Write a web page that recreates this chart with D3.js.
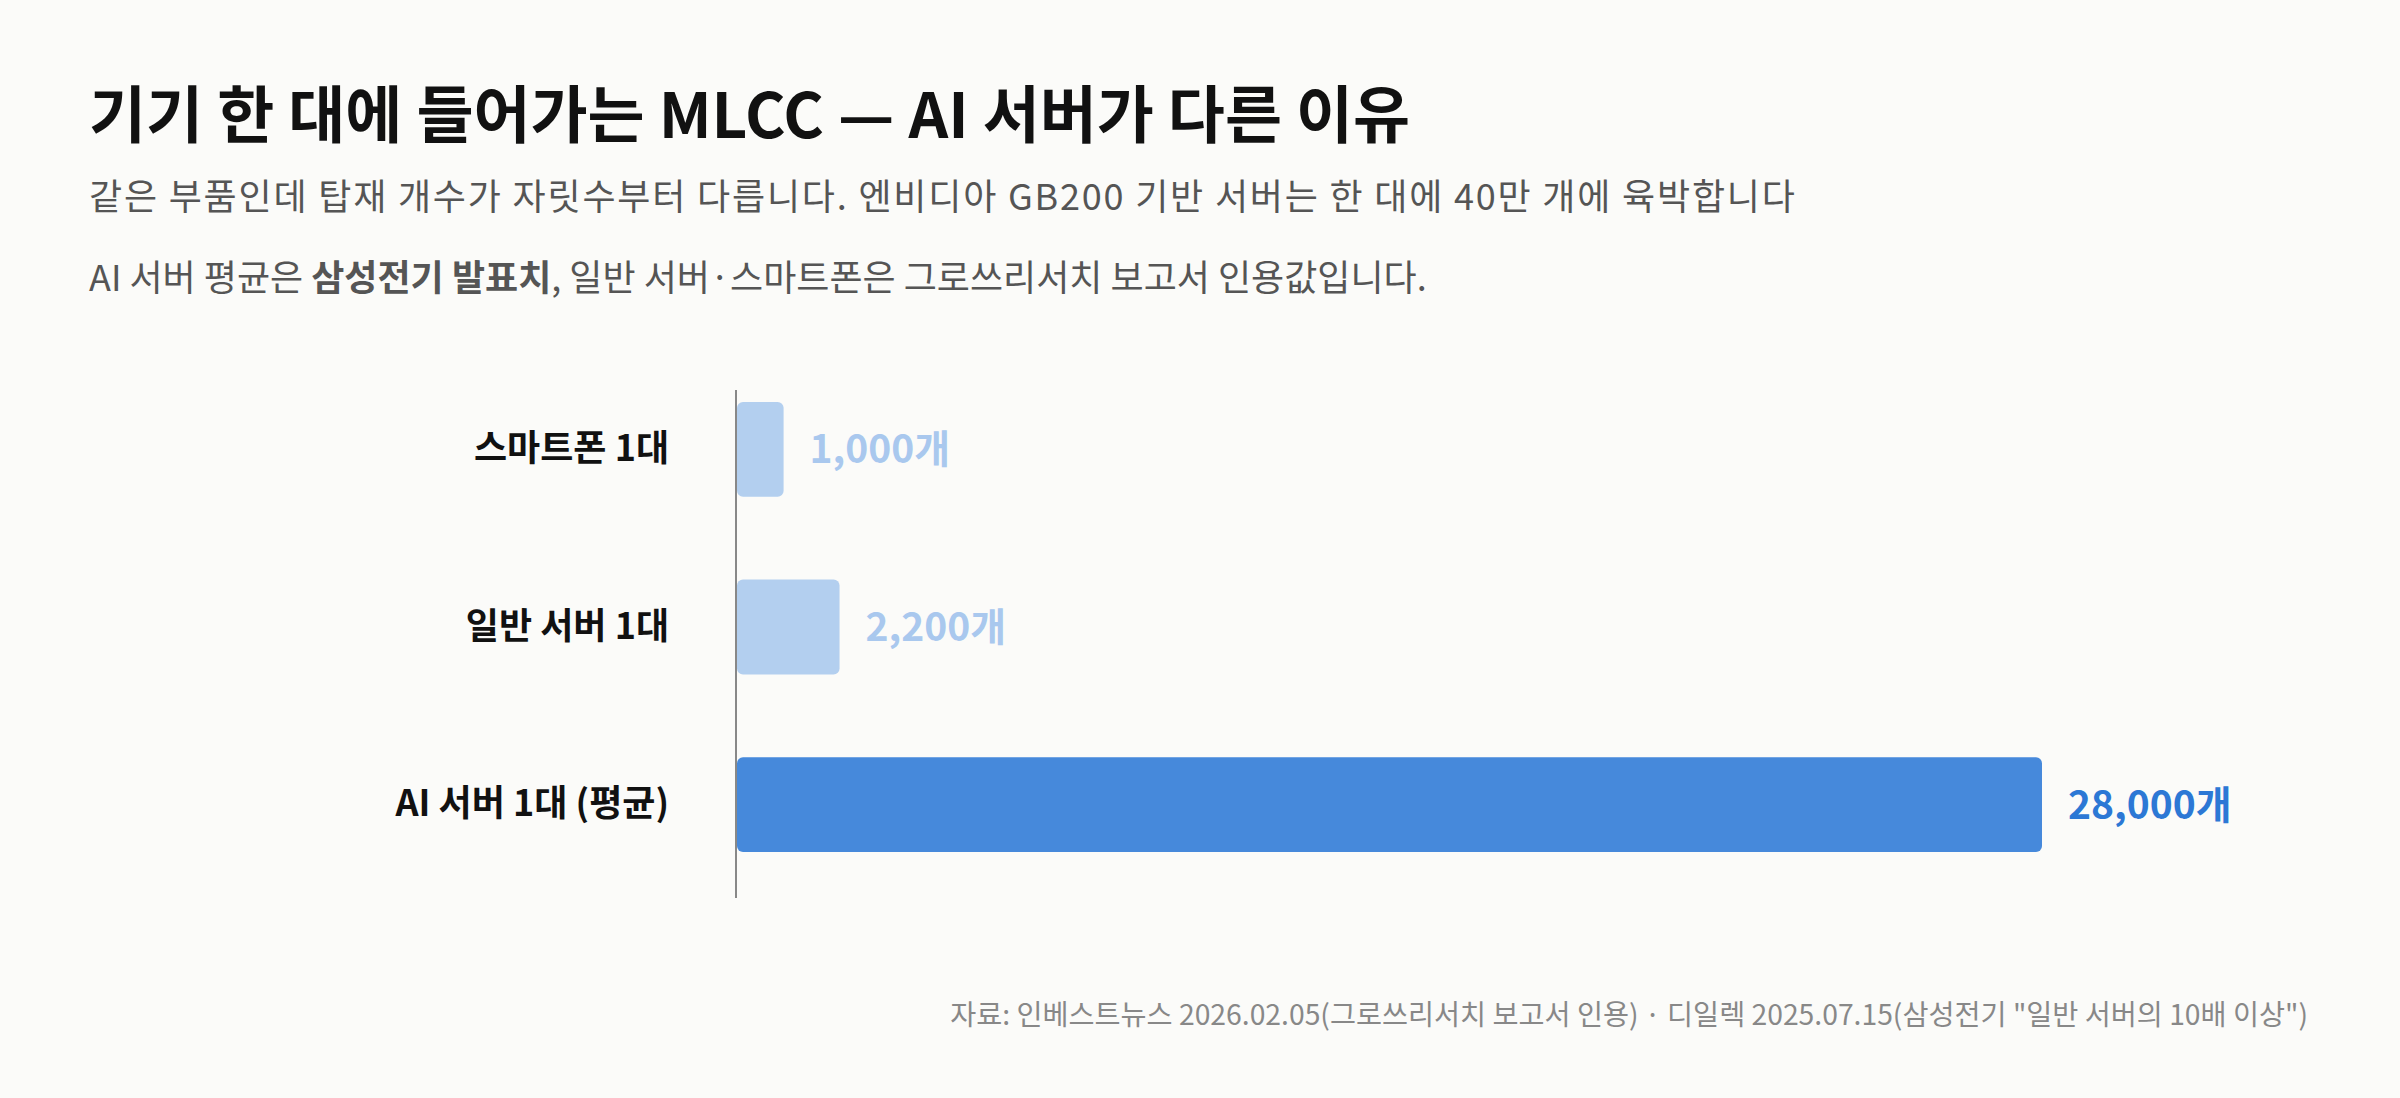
<!DOCTYPE html>
<html><head><meta charset="utf-8">
<script src="https://cdn.jsdelivr.net/npm/d3@7"></script>
<style>
html,body{margin:0;padding:0;background:#fbfbf9;}
svg{display:block;font-family:"Noto Sans CJK KR","Noto Sans",sans-serif;}
</style></head>
<body>
<svg id="chart" width="2400" height="1098"></svg>
<script>
const categories = ["스마트폰 1대", "일반 서버 1대", "AI 서버 1대 (평균)"];
const values = [1000, 2200, 28000];
const highlight = [false, false, true];
const valueSuffix = "개";
const title = "기기 한 대에 들어가는 MLCC — AI 서버가 다른 이유";
const subtitle1 = "같은 부품인데 탑재 개수가 자릿수부터 다릅니다. 엔비디아 GB200 기반 서버는 한 대에 40만 개에 육박합니다";
const subtitle2 = [["AI 서버 평균은 ", false], ["삼성전기 발표치", true], [", 일반 서버·스마트폰은 그로쓰리서치 보고서 인용값입니다.", false]];
const source = "자료: 인베스트뉴스 2026.02.05(그로쓰리서치 보고서 인용) · 디일렉 2025.07.15(삼성전기 \"일반 서버의 10배 이상\")";

const svg = d3.select("#chart");
svg.append("rect").attr("width", 2400).attr("height", 1098).attr("fill", "#fbfbf9");

svg.append("text").attr("x", 89).attr("y", 138)
  .attr("font-size", 62).attr("font-weight", 700).attr("fill", "#111")
  .text(title);

svg.append("text").attr("x", 89).attr("y", 210)
  .attr("font-size", 36).attr("fill", "#555").attr("letter-spacing", 1.8)
  .text(subtitle1);

const t2 = svg.append("text").attr("x", 89).attr("y", 291)
  .attr("font-size", 36).attr("fill", "#555");
subtitle2.forEach(([s, b]) => t2.append("tspan").attr("font-weight", b ? 700 : 400).text(s));

const x0 = 736;
const x = d3.scaleLinear().domain([0, 28000]).range([x0 + 1, 2042]);
const y = d3.scaleBand().domain(categories).range([402, 852]).paddingInner(0.466).paddingOuter(0);

const data = categories.map((c, i) => ({c, v: values[i], h: highlight[i]}));

svg.selectAll("rect.bar").data(data).join("rect").attr("class", "bar")
  .attr("x", x(0)).attr("y", d => y(d.c))
  .attr("width", d => x(d.v) - x(0)).attr("height", y.bandwidth())
  .attr("rx", 6).attr("fill", d => d.h ? "#4689db" : "#b3cfef");

svg.append("line").attr("x1", x0).attr("x2", x0).attr("y1", 390).attr("y2", 898)
  .attr("stroke", "#888", ).attr("stroke-width", 2);

const yAxis = d3.axisLeft(y).tickSize(0).tickPadding(0);
const ga = svg.append("g").attr("transform", `translate(669,0)`).call(yAxis);
ga.select(".domain").remove();
ga.selectAll("text").attr("font-size", 36).attr("font-weight", 700).attr("fill", "#111")
  .attr("font-family", '"Noto Sans CJK KR",sans-serif');

svg.selectAll("text.val").data(data).join("text").attr("class", "val")
  .attr("x", d => x(d.v) + 26).attr("y", d => y(d.c) + y.bandwidth() / 2)
  .attr("dy", "0.36em").attr("font-size", 39).attr("font-weight", 700)
  .attr("fill", d => d.h ? "#2c78d5" : "#a9c8ee")
  .text(d => d3.format(",")(d.v) + valueSuffix);

svg.append("text").attr("x", 2308).attr("y", 1025).attr("text-anchor", "end")
  .attr("font-size", 28.3).attr("fill", "#888").text(source);
</script>
</body></html>
